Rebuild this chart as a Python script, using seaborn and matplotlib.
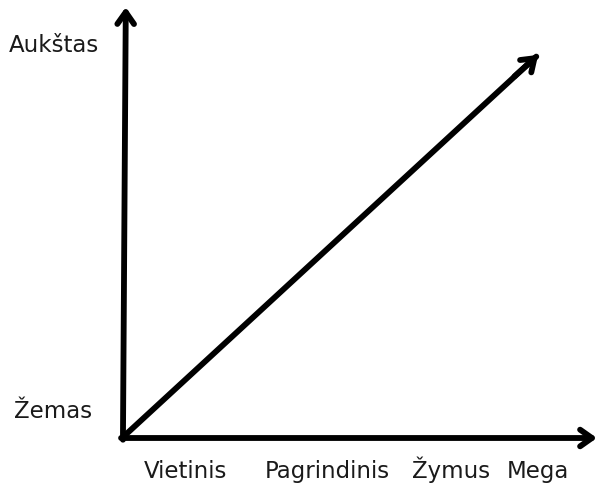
import matplotlib
matplotlib.use("Agg")
import matplotlib.pyplot as plt
import seaborn as sns
import pandas as pd

# categories on the horizontal axis and levels on the vertical axis
x_labels = ["Vietinis", "Pagrindinis", "Žymus", "Mega"]
y_labels = ["Žemas", "Aukštas"]

# trend line (axes fraction)
trend_x = [0.0, 0.878]
trend_y = [0.0, 0.891]

# label positions (layout only)
x_label_pos = [0.134, 0.434, 0.694, 0.878]
y_label_pos = [0.047, 0.898]
y_label_right = [-0.063, -0.048]

sns.set_style("white")
plt.rcParams["font.family"] = ["DejaVu Sans"]

fig = plt.figure(figsize=(5.98, 4.84), dpi=100)
ax = fig.add_axes([122 / 598, 46 / 484, 474 / 598, 430 / 484])
ax.set_xlim(0, 1)
ax.set_ylim(0, 1)
sns.despine(ax=ax, left=True, bottom=True)

line_df = pd.DataFrame({"x": trend_x[:-1] + [trend_x[-1] - 0.004],
                        "y": trend_y[:-1] + [trend_y[-1] - 0.004]})
sns.lineplot(data=line_df, x="x", y="y", ax=ax, color="black", lw=4.2,
             solid_capstyle="round", sort=False)

head = dict(arrowstyle="->,head_length=0.85,head_width=0.6", color="black",
            lw=4.2, capstyle="round", joinstyle="round", shrinkA=0, shrinkB=0)

# diagonal arrowhead
ax.annotate("", xy=(trend_x[-1], trend_y[-1]),
            xytext=(trend_x[-1] - 0.05, trend_y[-1] - 0.05),
            xycoords="axes fraction", textcoords="axes fraction",
            arrowprops=head, annotation_clip=False)
# x axis
ax.annotate("", xy=(1.002, 0.0), xytext=(-0.002, 0.0),
            xycoords="axes fraction", textcoords="axes fraction",
            arrowprops=head, annotation_clip=False)
# y axis
ax.annotate("", xy=(0.008, 1.002), xytext=(0.002, -0.004),
            xycoords="axes fraction", textcoords="axes fraction",
            arrowprops=head, annotation_clip=False)

ax.set_xticks(x_label_pos, x_labels)
ax.set_yticks([])
ax.tick_params(axis="x", length=0, pad=28.5, labelsize=16.5, labelcolor="#1a1a1a")
for t in ax.get_xticklabels():
    t.set_verticalalignment("baseline")
ax.set_xlabel("")
ax.set_ylabel("")

for lab, yp, xr in zip(y_labels, y_label_pos, y_label_right):
    ax.text(xr, yp, lab, transform=ax.transAxes, ha="right", va="baseline",
            fontsize=16.5, color="#1a1a1a")

fig.savefig("out.png", dpi=100, facecolor="white")
